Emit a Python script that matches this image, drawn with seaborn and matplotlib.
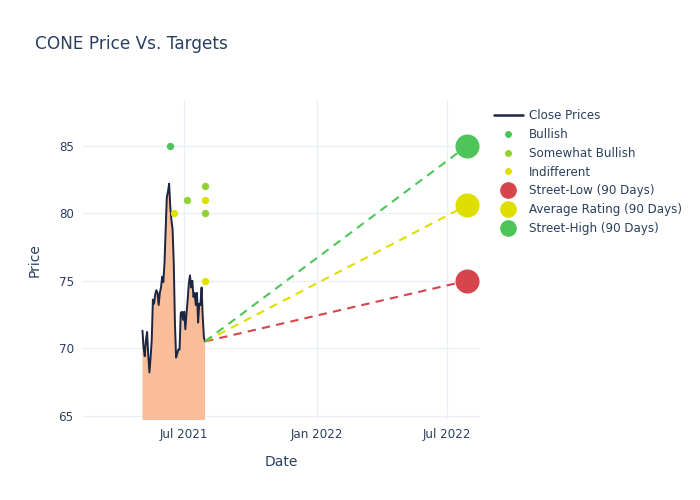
import matplotlib
matplotlib.use("Agg")
import matplotlib.pyplot as plt
import matplotlib.dates as mdates
import seaborn as sns
import pandas as pd
from matplotlib.lines import Line2D

# close prices
close = [71.3, 70.0, 69.4, 70.6, 71.2, 69.5, 68.2, 69.3, 70.6, 73.6, 73.3, 74.0,
         74.3, 74.1, 73.2, 74.1, 74.5, 75.3, 74.9, 76.3, 78.8, 81.2, 81.6, 82.2,
         80.5, 79.5, 78.8, 76.3, 71.9, 69.3, 69.6, 69.9, 69.9, 72.6, 72.7, 72.1,
         72.7, 71.4, 72.6, 73.6, 74.8, 75.4, 74.5, 75.0, 73.8, 74.1, 73.2, 74.1,
         71.9, 73.3, 73.2, 74.5, 72.3, 70.8, 70.5]
price_start = "2021-05-04"
price_end = "2021-07-30"

# analyst ratings
bullish_dates = ["2021-06-11"]
bullish_vals = [85]
somewhat_dates = ["2021-07-05", "2021-07-30", "2021-07-30"]
somewhat_vals = [81, 82, 80]
indiff_dates = ["2021-06-17", "2021-07-30", "2021-07-30"]
indiff_vals = [80, 81, 75]

# street targets (90 days)
target_date = "2022-07-29"
street_low = 75
street_avg = 80.6
street_high = 85

dates = pd.date_range(price_start, price_end, periods=len(close))
df = pd.DataFrame({"Date": dates, "Close": close})

sns.set_style("whitegrid")
plt.rcParams["font.family"] = ["DejaVu Sans"]
txt = "#2a3f5f"
grid = "#ebf0f8"

fig = plt.figure(figsize=(7, 5), dpi=100)
ax = fig.add_axes([82 / 700, 80 / 500, 398 / 700, 320 / 500])

ax.fill_between(df["Date"], df["Close"], 0, color="#f9bd9a", linewidth=0)
sns.lineplot(data=df, x="Date", y="Close", ax=ax, color="#1c2541", linewidth=1.4)

last_d = df["Date"].iloc[-1]
last_v = df["Close"].iloc[-1]
td = pd.Timestamp(target_date)
for val, col in [(street_low, "#d6444c"), (street_avg, "#dede00"), (street_high, "#4fc45a")]:
    ax.plot([last_d, td], [last_v, val], linestyle=(0, (4, 3)), color=col, linewidth=1.5)

sns.scatterplot(x=pd.to_datetime(bullish_dates), y=bullish_vals, ax=ax, color="#4fc45a", s=28, linewidth=0, zorder=5)
sns.scatterplot(x=pd.to_datetime(somewhat_dates), y=somewhat_vals, ax=ax, color="#92d130", s=28, linewidth=0, zorder=5)
sns.scatterplot(x=pd.to_datetime(indiff_dates), y=indiff_vals, ax=ax, color="#e0e000", s=28, linewidth=0, zorder=5)

sns.scatterplot(x=[td], y=[street_low], ax=ax, color="#d6444c", s=300, linewidth=0, zorder=6)
sns.scatterplot(x=[td], y=[street_avg], ax=ax, color="#dede00", s=300, linewidth=0, zorder=6)
sns.scatterplot(x=[td], y=[street_high], ax=ax, color="#4fc45a", s=300, linewidth=0, zorder=6)

ax.set_xlim(pd.Timestamp("2021-02-09"), pd.Timestamp("2022-08-16"))
ax.set_ylim(64.67, 88.41)
ax.set_yticks([65, 70, 75, 80, 85])
ax.xaxis.set_major_locator(mdates.MonthLocator(bymonth=[1, 7]))
ax.xaxis.set_major_formatter(mdates.DateFormatter("%b %Y"))
ax.grid(True, color=grid, linewidth=1)
ax.set_axisbelow(True)
for s in ax.spines.values():
    s.set_visible(False)
ax.tick_params(colors=txt, labelsize=8.6, length=0, pad=6)
ax.set_xlabel("Date", color=txt, fontsize=10, labelpad=10)
ax.set_ylabel("Price", color=txt, fontsize=10, labelpad=12)

fig.text(35 / 700, 1 - 44 / 500, "CONE Price Vs. Targets", color=txt, fontsize=12.2, va="center")

handles = [
    Line2D([], [], color="#1c2541", linewidth=1.8),
    Line2D([], [], marker="o", linestyle="", color="#4fc45a", markersize=4),
    Line2D([], [], marker="o", linestyle="", color="#92d130", markersize=4),
    Line2D([], [], marker="o", linestyle="", color="#e0e000", markersize=4),
    Line2D([], [], marker="o", linestyle="", color="#d6444c", markersize=11),
    Line2D([], [], marker="o", linestyle="", color="#dede00", markersize=11),
    Line2D([], [], marker="o", linestyle="", color="#4fc45a", markersize=11),
]
labels = ["Close Prices", "Bullish", "Somewhat Bullish", "Indifferent",
          "Street-Low (90 Days)", "Average Rating (90 Days)", "Street-High (90 Days)"]
leg = fig.legend(handles, labels, loc="upper left", bbox_to_anchor=(494 / 700, 1 - 109 / 500),
                 frameon=False, fontsize=8.6, labelspacing=0.49, handlelength=2.4,
                 handletextpad=0.55, borderaxespad=0, borderpad=0)
for t in leg.get_texts():
    t.set_color(txt)

fig.savefig("out.png", dpi=100)
